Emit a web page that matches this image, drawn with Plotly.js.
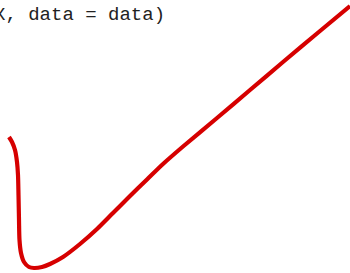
<!DOCTYPE html>
<html>
<head>
<meta charset="utf-8">
<script src="https://cdn.plot.ly/plotly-3.0.1.min.js"></script>
<style>
html, body { margin: 0; padding: 0; background: #fff; }
#chart { width: 350px; height: 273px; }
</style>
</head>
<body>
<div id="chart"></div>
<script>
const xValues = [9, 12, 15, 17, 18, 18.5, 19, 19.5, 21, 24, 29, 34, 42, 50, 63, 80, 97, 113, 130, 147, 163, 183, 217, 250, 283, 320, 350];
const yValues = [137, 142, 150, 162, 175, 195, 220, 240, 253, 262, 267, 268, 267, 264, 257, 244, 229, 213, 196, 179.5, 164, 146.5, 118, 90, 62, 31, 6];
const codeText = "X, data = data)";

const trace = {
  x: xValues,
  y: yValues,
  type: "scatter",
  mode: "lines",
  line: { color: "rgb(214,0,0)", width: 4.2, shape: "spline", smoothing: 0.8 },
  hoverinfo: "skip"
};

const layout = {
  width: 350,
  height: 273,
  margin: { l: 0, r: 0, t: 0, b: 0, pad: 0 },
  paper_bgcolor: "#fff",
  plot_bgcolor: "#fff",
  showlegend: false,
  xaxis: { range: [0, 350], visible: false, fixedrange: true },
  yaxis: { range: [273, 0], visible: false, fixedrange: true },
  annotations: [{
    text: codeText,
    xref: "paper", yref: "paper",
    x: -0.022, y: 1.0,
    xanchor: "left", yanchor: "top",
    yshift: -2,
    showarrow: false,
    font: { family: "Liberation Mono, Courier New, monospace", size: 19, color: "#222" }
  }]
};

Plotly.newPlot("chart", [trace], layout, { displayModeBar: false, staticPlot: true });
</script>
</body>
</html>
